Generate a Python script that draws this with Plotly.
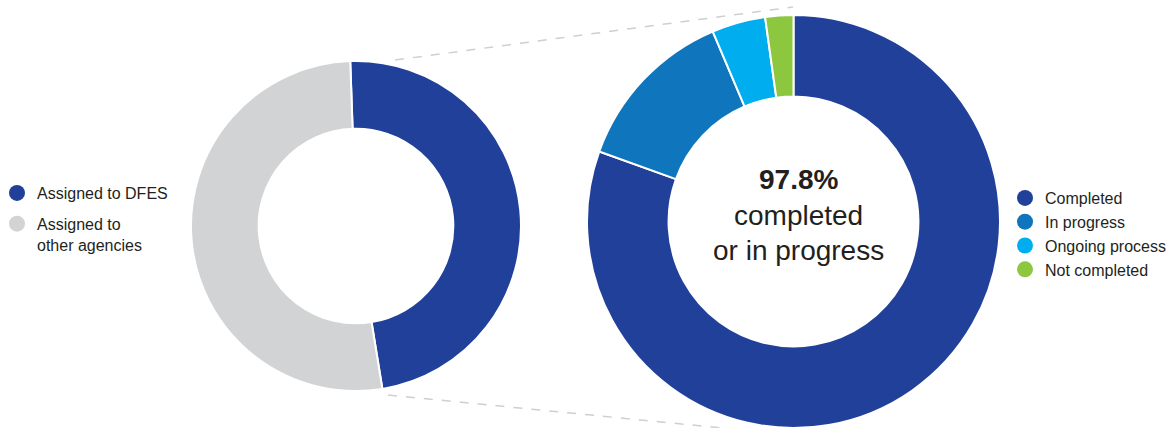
import plotly.graph_objects as go

W, H = 1174, 428

# ---- data ----
assign_labels = ["Assigned to DFES", "Assigned to<br>other agencies"]
assign_values = [48.0, 52.0]
assign_colors = ["#21409A", "#D1D3D4"]

status_labels = ["Completed", "In progress", "Ongoing process", "Not completed"]
status_values = [80.5, 13.1, 4.2, 2.2]
status_colors = ["#21409A", "#0F75BC", "#00AEEF", "#8DC63F"]

center_lines = ["<b>97.8%</b>", "completed", "or in progress"]

FONT = "Liberation Sans, Arial, sans-serif"
TXT = "#231F20"


def px(x):
    return x / W


def py(y):
    return 1 - y / H


fig = go.Figure()

# left donut
fig.add_trace(go.Pie(
    labels=assign_labels, values=assign_values, sort=False,
    direction="clockwise", rotation=-2, hole=0.59,
    marker=dict(colors=assign_colors, line=dict(color="white", width=2)),
    textinfo="none", hoverinfo="label+percent", showlegend=False,
    domain=dict(x=[px(191), px(521)], y=[py(391), py(61)]),
))

# right donut
fig.add_trace(go.Pie(
    labels=status_labels, values=status_values, sort=False,
    direction="clockwise", rotation=0, hole=0.605,
    marker=dict(colors=status_colors, line=dict(color="white", width=2)),
    textinfo="none", hoverinfo="label+percent", showlegend=False,
    domain=dict(x=[px(587), px(1000)], y=[0, py(15)]),
))

# legend entries (circle markers)
for i, (lab, col) in enumerate(zip(assign_labels, assign_colors)):
    fig.add_trace(go.Scatter(x=[None], y=[None], mode="markers", name=lab,
                             marker=dict(color=col, size=16), legend="legend",
                             legendgroup=f"a{i}", hoverinfo="skip"))
for lab, col in zip(status_labels, status_colors):
    fig.add_trace(go.Scatter(x=[None], y=[None], mode="markers", name=lab,
                             marker=dict(color=col, size=16), legend="legend2",
                             hoverinfo="skip"))

# center text
for txt, yc in zip(center_lines, [179, 216, 250]):
    fig.add_annotation(x=px(798), y=py(yc), xref="paper", yref="paper",
                       text=txt, showarrow=False, xanchor="center", yanchor="middle",
                       font=dict(family=FONT, size=28, color=TXT))

# dashed connector lines
dash_style = dict(color="#CFCFCF", width=1.5, dash="dash")
fig.add_shape(type="line", xref="paper", yref="paper",
              x0=px(395), y0=py(60), x1=px(793), y1=py(7), line=dash_style, layer="below")
fig.add_shape(type="line", xref="paper", yref="paper",
              x0=px(388), y0=py(395), x1=px(722), y1=py(428), line=dash_style, layer="below")

fig.update_layout(
    width=W, height=H,
    margin=dict(l=0, r=0, t=0, b=0, autoexpand=False),
    paper_bgcolor="white", plot_bgcolor="white",
    xaxis=dict(visible=False), yaxis=dict(visible=False),
    font=dict(family=FONT, color=TXT),
    legend=dict(x=px(-3), y=py(176), xanchor="left", yanchor="top",
                font=dict(family=FONT, size=16, color=TXT), valign="top",
                bgcolor="rgba(0,0,0,0)", tracegroupgap=7, itemclick=False),
    legend2=dict(x=px(1005), y=py(181), xanchor="left", yanchor="top",
                 font=dict(family=FONT, size=16, color=TXT), valign="middle",
                 bgcolor="rgba(0,0,0,0)", tracegroupgap=0, itemclick=False),
)

fig.write_html("out.html")
